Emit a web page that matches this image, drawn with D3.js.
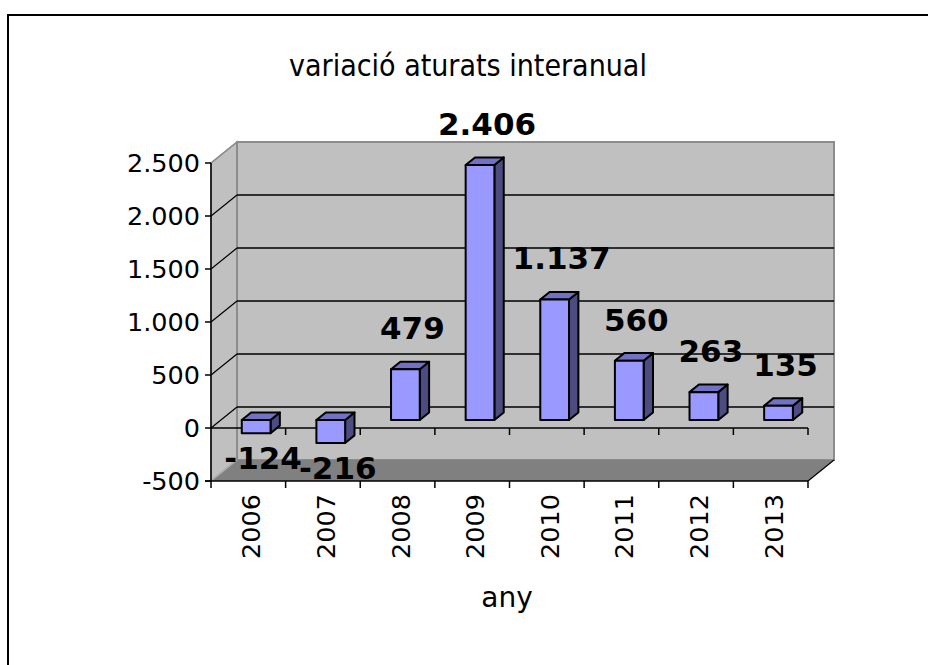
<!DOCTYPE html>
<html>
<head>
<meta charset="utf-8">
<script src="https://cdn.jsdelivr.net/npm/d3@7"></script>
<style>
  body { margin: 0; background: #fff; }
  text { font-family: "DejaVu Sans", Verdana, sans-serif; }
</style>
</head>
<body>
<div id="canvas"></div>
<script>
const years = ["2006", "2007", "2008", "2009", "2010", "2011", "2012", "2013"];
const values = [-124, -216, 479, 2406, 1137, 560, 263, 135];
const yTicks = [-500, 0, 500, 1000, 1500, 2000, 2500];
const labels = ["-124", "-216", "479", "2.406", "1.137", "560", "263", "135"];
const title = "variació aturats interanual";
const xTitle = "any";

const W = 928, H = 665;
const depth = { dx: 26, dy: -21 };   // front -> back wall
const barPos = 0.38, barDepth = 0.36;

const svg = d3.select("#canvas").append("svg")
  .attr("width", W).attr("height", H);

// outer frame
svg.append("rect")
  .attr("x", 8).attr("y", 15).attr("width", 940).attr("height", 670)
  .attr("fill", "#fff").attr("stroke", "#000").attr("stroke-width", 2);

const x = d3.scaleBand().domain(years).range([211, 808]).padding(0);
const y = d3.scaleLinear().domain([-500, 2500]).range([481, 163]);

const x0 = x.range()[0], x1 = x.range()[1];
const yTop = y(2500), yBot = y(-500);

// left wall
svg.append("polygon")
  .attr("points", [[x0, yTop], [x0 + depth.dx, yTop + depth.dy], [x0 + depth.dx, yBot + depth.dy], [x0, yBot]].join(" "))
  .attr("fill", "#c0c0c0").attr("stroke", "#8c8c8c").attr("stroke-width", 1.5);

// back wall
svg.append("rect")
  .attr("x", x0 + depth.dx).attr("y", yTop + depth.dy)
  .attr("width", x1 - x0).attr("height", yBot - yTop)
  .attr("fill", "#c0c0c0").attr("stroke", "#8c8c8c").attr("stroke-width", 2);

// gridlines on back wall + left wall diagonals
const inner = yTicks.filter(v => v > -500 && v < 2500);
svg.selectAll(".grid").data(inner).join("line")
  .attr("x1", x0 + depth.dx).attr("x2", x1 + depth.dx)
  .attr("y1", d => y(d) + depth.dy).attr("y2", d => y(d) + depth.dy)
  .attr("stroke", "#000").attr("stroke-width", 1.5);
svg.selectAll(".diag").data(yTicks.filter(v => v > -500)).join("line")
  .attr("x1", x0).attr("x2", x0 + depth.dx)
  .attr("y1", d => y(d)).attr("y2", d => y(d) + depth.dy)
  .attr("stroke", d => d === 2500 ? "#8c8c8c" : "#000").attr("stroke-width", 1.2);

// floor
svg.append("polygon")
  .attr("points", [[x0, yBot], [x1, yBot], [x1 + depth.dx, yBot + depth.dy], [x0 + depth.dx, yBot + depth.dy]].join(" "))
  .attr("fill", "#808080");
svg.append("line")
  .attr("x1", x1).attr("y1", yBot).attr("x2", x1 + depth.dx).attr("y2", yBot + depth.dy)
  .attr("stroke", "#000").attr("stroke-width", 1.2);
svg.append("line")
  .attr("x1", x0).attr("y1", yBot).attr("x2", x0 + depth.dx).attr("y2", yBot + depth.dy)
  .attr("stroke", "#b0b0b0").attr("stroke-width", 1.2);

// zero line on front plane with category ticks
svg.append("line")
  .attr("x1", x0).attr("x2", x1).attr("y1", y(0)).attr("y2", y(0))
  .attr("stroke", "#000").attr("stroke-width", 1.5);
svg.selectAll(".zt").data(years.slice(1).concat(["end"])).join("line")
  .attr("x1", d => d === "end" ? x1 : x(d)).attr("x2", d => d === "end" ? x1 : x(d))
  .attr("y1", y(0)).attr("y2", y(0) + 7)
  .attr("stroke", "#000").attr("stroke-width", 1.5);

// bars
const bw = x.bandwidth() * 0.385;
const offX = depth.dx * barPos, offY = depth.dy * barPos;
const ddx = depth.dx * barDepth, ddy = depth.dy * barDepth;
const bars = years.map((yr, i) => {
  const v = values[i];
  const left = x(yr) + offX + x.bandwidth() * 0.28;
  const top = Math.min(y(v), y(0)) + offY;
  const bottom = Math.max(y(v), y(0)) + offY;
  return { yr, v, left, top, bottom, label: labels[i] };
});

const g = svg.append("g").attr("stroke", "#000").attr("stroke-width", 2).attr("stroke-linejoin", "round");
bars.forEach(b => {
  g.append("polygon")
    .attr("points", [[b.left + bw, b.top], [b.left + bw + ddx, b.top + ddy], [b.left + bw + ddx, b.bottom + ddy], [b.left + bw, b.bottom]].join(" "))
    .attr("fill", "#4c4c80");
  g.append("polygon")
    .attr("points", [[b.left, b.top], [b.left + ddx, b.top + ddy], [b.left + bw + ddx, b.top + ddy], [b.left + bw, b.top]].join(" "))
    .attr("fill", "#7272c4");
  g.append("rect")
    .attr("x", b.left).attr("y", b.top).attr("width", bw).attr("height", b.bottom - b.top)
    .attr("fill", "#9999ff");
});

// value labels
svg.selectAll(".lbl").data(bars).join("text")
  .attr("x", d => d.left + bw / 2 + 7)
  .attr("y", d => d.v >= 0 ? d.top - 30 : d.bottom + 36)
  .attr("text-anchor", "middle")
  .attr("font-size", 31).attr("font-weight", "bold")
  .text(d => d.label);

// y axis
svg.append("line").attr("x1", x0).attr("x2", x0).attr("y1", yTop).attr("y2", yBot)
  .attr("stroke", "#000").attr("stroke-width", 1.5);
svg.selectAll(".yt").data(yTicks).join("line")
  .attr("x1", x0 - 6).attr("x2", x0).attr("y1", d => y(d)).attr("y2", d => y(d))
  .attr("stroke", "#000").attr("stroke-width", 1.5);
const fmt = d3.formatLocale({ decimal: ",", thousands: ".", grouping: [3], currency: ["", ""] }).format(",d");
svg.selectAll(".yl").data(yTicks).join("text")
  .attr("x", 200).attr("y", d => y(d)).attr("dy", "0.36em")
  .attr("text-anchor", "end").attr("font-size", 25.5)
  .text(d => fmt(d).replace("−", "-"));

// x axis
svg.append("line").attr("x1", x0 - 6).attr("x2", x1).attr("y1", yBot).attr("y2", yBot)
  .attr("stroke", "#000").attr("stroke-width", 1.5);
svg.selectAll(".xt").data(years.concat(["end"])).join("line")
  .attr("x1", d => d === "end" ? x1 : x(d)).attr("x2", d => d === "end" ? x1 : x(d))
  .attr("y1", yBot).attr("y2", yBot + 7)
  .attr("stroke", "#000").attr("stroke-width", 1.5);
svg.selectAll(".xl").data(years).join("text")
  .attr("transform", d => `translate(${x(d) + x.bandwidth() / 2 + 12},${yBot + 13}) rotate(-90)`)
  .attr("text-anchor", "end").attr("font-size", 25.5)
  .text(d => d);

// titles
svg.append("text").attr("x", 468).attr("y", 76).attr("text-anchor", "middle")
  .style("font-family", "'DejaVu Sans Condensed', 'DejaVu Sans', sans-serif")
  .attr("font-size", 30).text(title);
svg.append("text").attr("x", 507).attr("y", 607).attr("text-anchor", "middle")
  .attr("font-size", 28).text(xTitle);
</script>
</body>
</html>
